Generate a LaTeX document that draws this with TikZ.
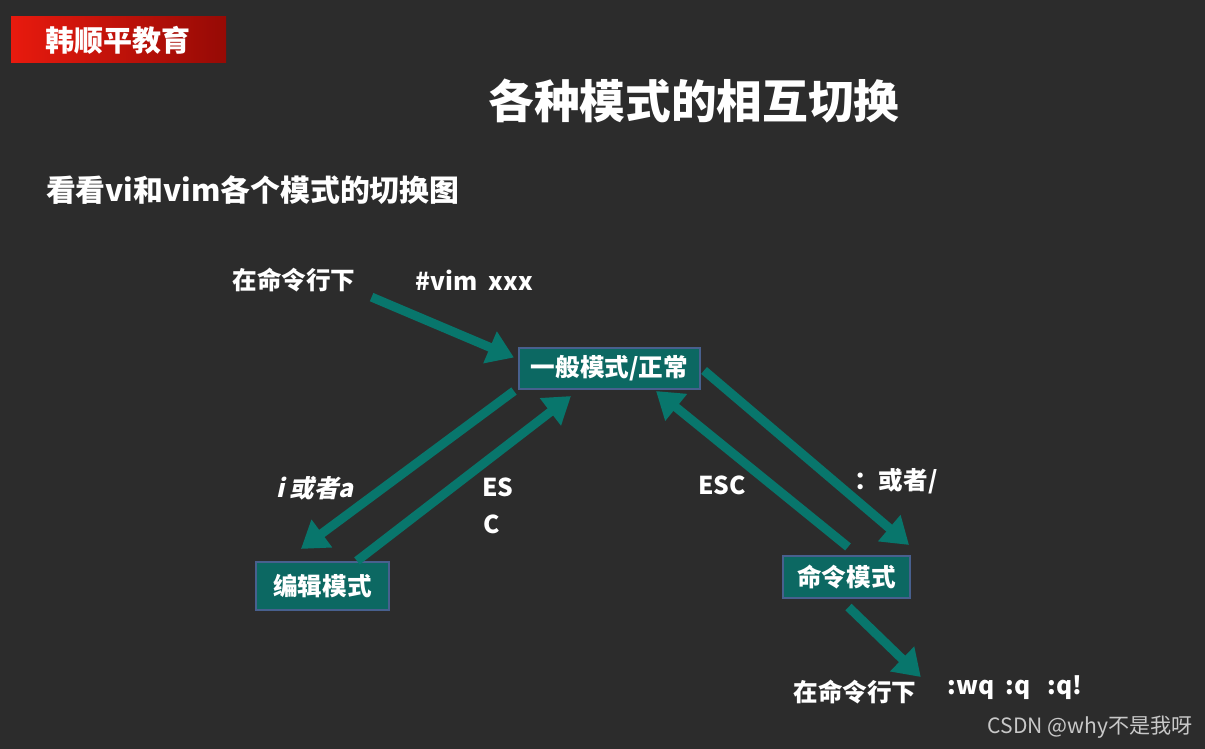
\documentclass[tikz,border=0pt]{standalone}
\usepackage{xcolor}
\usepackage{fontspec}
\setmainfont{Noto Sans CJK SC}
\newfontfamily\slantfont{Noto Sans CJK SC}[FakeSlant=0.22]
\usepackage{tikz}
\usetikzlibrary{positioning,arrows.meta,calc}

\definecolor{board}{RGB}{44,44,44}
\definecolor{vteal}{RGB}{8,118,108}
\definecolor{boxfill}{RGB}{12,104,98}
\definecolor{boxline}{RGB}{72,96,142}
\definecolor{hdrred}{RGB}{232,26,14}
\definecolor{hdrdark}{RGB}{150,10,5}
\definecolor{mark}{RGB}{200,200,200}

\begin{document}
\begin{tikzpicture}[
  x=0.02cm, y=-0.02cm,
  mode/.style={draw=boxline, line width=1.2pt, fill=boxfill, text=white,
               font=\bfseries\fontsize{14}{16}\selectfont, inner sep=0pt},
  txt/.style={text=white, font=\bfseries\fontsize{14}{16}\selectfont, inner sep=1pt},
  arr/.style={-{Triangle[length=0.52cm, width=0.66cm]}, draw=vteal, line width=0.18cm},
]
  \useasboundingbox[fill=board] (0,0) rectangle (1205,749);

  \shade[left color=hdrred, right color=hdrdark] (11,17) rectangle (226,63);
  \node[txt, font=\bfseries\fontsize{16.5}{18}\selectfont] (brand) at (118,40) {韩顺平教育};

  \node[txt, font=\bfseries\fontsize{26}{30}\selectfont] (title) at (694,101) {各种模式的相互切换};
  \node[txt, anchor=west, font=\bfseries\fontsize{17}{20}\selectfont] (sub) at (44,190)
    {看看vi和vim各个模式的切换图};

  \node[mode, minimum width=3.62cm, minimum height=0.82cm] (normal) at (609.5,368.5) {一般模式/正常};
  \node[mode, minimum width=2.66cm, minimum height=0.96cm] (edit) at (322.5,586) {编辑模式};
  \node[mode, minimum width=2.54cm, minimum height=0.84cm] (cmd) at (846.5,577) {命令模式};

  \node[txt] (shell) at (294,280) {在命令行下};
  \node[txt] (vim) at (474,280) {\#vim\ \ xxx};
  \node[txt, font=\slantfont\bfseries\fontsize{14}{16}\selectfont] (ia) at (315,488) {i 或者a};
  \node[txt] (es) at (498,487) {ES};
  \node[txt] (c) at (492,524) {C};
  \node[txt] (esc) at (722,485) {ESC};
  \node[txt] (colon) at (896,481) {：或者/};
  \node[txt] (shell2) at (855,692) {在命令行下};
  \node[txt] (quit) at (1015,688) {:wq\ \ :q\ \ \ :q!};
  \node[text=mark, font=\fontsize{12}{14}\selectfont] (wm) at (1090,727) {CSDN @why不是我呀};

  \draw[arr] ($(shell.south east)+(14,3)$) -- ($(normal.west)+(-4,-11)$);
  \draw[arr] ($(normal.south west)+(-4,1)$) -- ($(edit.north west)+(46,-12)$);
  \draw[arr] ($(edit.north west)+(102,0)$) -- ($(normal.south west)+(53,6)$);
  \draw[arr] ($(cmd.north)+(1.5,-8)$) -- ($(normal.south east)+(-45,1)$);
  \draw[arr] ($(normal.east)+(3,2)$) -- ($(cmd.north east)+(-2,-10)$);
  \draw[arr] ($(cmd.south)+(2,8)$) -- ($(quit.west)+(-25,-11)$);
\end{tikzpicture}
\end{document}
